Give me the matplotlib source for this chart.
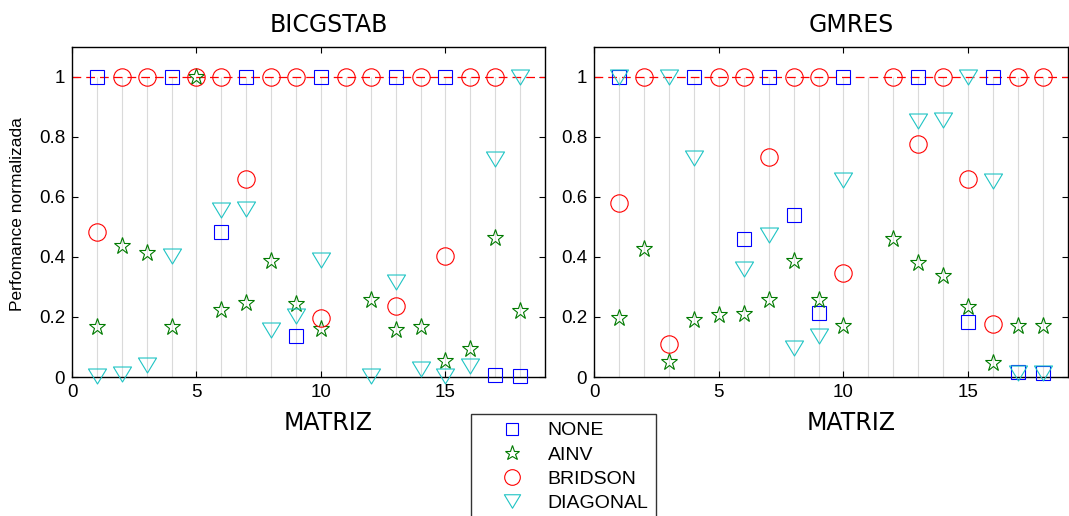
import numpy as np
import matplotlib
matplotlib.use("Agg")
import matplotlib.pyplot as plt
from matplotlib.lines import Line2D
from matplotlib.path import Path

nan = np.nan
matrices = list(range(1, 19))
methods = ["NONE", "AINV", "BRIDSON", "DIAGONAL"]
titles = ["BICGSTAB", "GMRES"]

bicg_none = [1, nan, nan, 1, nan, 0.484, 1, nan, 0.135, 1, nan, nan, 1, nan, 1, nan, 0.008, 0.004]
bicg_ainv = [0.166, 0.436, 0.414, 0.166, 1, 0.223, 0.245, 0.387, 0.243, 0.160, nan, 0.256, 0.155, 0.168, 0.053, 0.094, 0.464, 0.219]
bicg_bridson = [0.484, 1, 1, nan, 1, 1, 0.661, 1, 1, 0.197, 1, 1, 0.235, 1, 0.403, 1, 1, nan]
bicg_diagonal = [0.003, 0.009, 0.039, 0.402, nan, 0.556, 0.560, 0.156, 0.202, 0.390, nan, 0.003, 0.317, 0.025, 0.002, 0.038, 0.725, 1]

gmres_none = [1, nan, nan, 1, nan, 0.461, 1, 0.538, 0.212, 1, nan, nan, 1, nan, 0.182, 1, 0.017, 0.013]
gmres_ainv = [0.197, 0.425, 0.050, 0.190, 0.208, 0.210, 0.256, 0.387, 0.256, 0.169, nan, 0.461, 0.381, 0.335, 0.232, 0.048, 0.171, 0.169]
gmres_bridson = [0.580, 1, 0.110, nan, 1, 1, 0.733, 1, 1, 0.348, nan, 1, 0.776, 1, 0.660, 0.175, 1, 1]
gmres_diagonal = [1, nan, 1, 0.729, nan, 0.360, 0.474, 0.096, 0.136, 0.657, nan, nan, 0.851, 0.856, 1, 0.654, 0.014, 0.014]

panels = [
    [bicg_none, bicg_ainv, bicg_bridson, bicg_diagonal],
    [gmres_none, gmres_ainv, gmres_bridson, gmres_diagonal],
]

W, H = 1069, 516
fig = plt.figure(figsize=(W / 100, H / 100), dpi=100)

tri = Path([(-1, 0.83), (1, 0.83), (0, -0.83), (-1, 0.83)],
           [Path.MOVETO, Path.LINETO, Path.LINETO, Path.CLOSEPOLY])
styles = [
    dict(marker="s", color="#0000ff", ms=10),
    dict(marker="*", color="#007a00", ms=12.5),
    dict(marker="o", color="#ff0000", ms=12.5),
    dict(marker=tri, color="#1fc4c4", ms=13),
]

axes_px = [(72, 545), (594, 1068)]
top_px, bot_px = 46.7, 377

for ax_i, (x0, x1) in enumerate(axes_px):
    ax = fig.add_axes([x0 / W, 1 - bot_px / H, (x1 - x0) / W, (bot_px - top_px) / H])
    ax.vlines(matrices, 0, 1, colors="#dadada", linewidth=0.8, zorder=1)
    ax.axhline(1, color="#ff0000", linewidth=0.9, linestyle=(0, (7, 4)), zorder=2)
    for data, st in zip(panels[ax_i], styles):
        ax.plot(matrices, data, linestyle="none", marker=st["marker"],
                markersize=st["ms"], markerfacecolor="none",
                markeredgecolor=st["color"], markeredgewidth=0.8, zorder=3,
                clip_on=False)
    ax.set_xlim(0, 19)
    ax.set_ylim(0, 1.1)
    ax.set_xticks([0, 5, 10, 15])
    ax.set_yticks([0, 0.2, 0.4, 0.6, 0.8, 1])
    ax.set_yticklabels(["0", "0.2", "0.4", "0.6", "0.8", "1"])
    ax.tick_params(direction="in", length=4, width=0.8, top=True, right=True, pad=5)
    for lab in ax.get_xticklabels() + ax.get_yticklabels():
        lab.set_fontfamily("Liberation Sans")
        lab.set_fontsize(13.5)
    for sp in ax.spines.values():
        sp.set_linewidth(1.0)
    axh = bot_px - top_px
    ax.text(0.542, 1 + 14.7 / axh, titles[ax_i], transform=ax.transAxes,
            ha="center", va="baseline", fontsize=17, family="DejaVu Sans")
    ax.text(0.542, -53 / axh, "MATRIZ", transform=ax.transAxes,
            ha="center", va="baseline", fontsize=17, family="DejaVu Sans")

fig.text(18 / W, 1 - 214 / H, "Perfomance normalizada", rotation=90,
         ha="center", va="center", fontsize=12.5, family="Liberation Sans")

handles = [Line2D([], [], linestyle="none", marker=st["marker"], markersize=st["ms"] * 0.9,
                  markerfacecolor="none", markeredgecolor=st["color"], markeredgewidth=0.8)
           for st in styles]
leg = fig.legend(handles, methods, loc="upper left",
                 bbox_to_anchor=(471 / W, 1 - 414 / H), bbox_transform=fig.transFigure,
                 borderaxespad=0, frameon=True, fancybox=False, handlelength=3.4,
                 handletextpad=0.15, labelspacing=0.34, borderpad=0.4,
                 prop=dict(family="Liberation Sans", size=14))
leg.get_frame().set_edgecolor("black")
leg.get_frame().set_linewidth(1.0)

fig.savefig("out.png", dpi=100)
